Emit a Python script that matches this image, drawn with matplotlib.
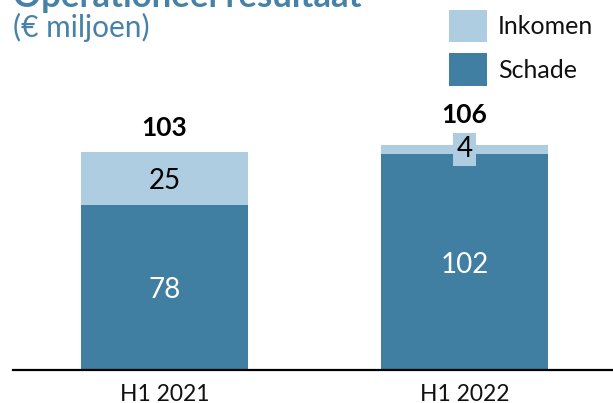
import matplotlib
matplotlib.use("Agg")
import matplotlib.pyplot as plt
import numpy as np

categories = ["H1 2021", "H1 2022"]
schade = [78, 102]
inkomen = [25, 4]
totals = [103, 106]

dark = "#407FA2"
light = "#AECDE0"
title_col = "#4682A8"

plt.rcParams['font.family'] = ['Lato', 'DejaVu Sans']

fig = plt.figure(figsize=(6.13, 4.03), dpi=100)
ax = fig.add_axes([13/613, 33/403, 600/613, 370/403])

x = np.arange(len(categories))
w = 0.557
b1 = ax.bar(x, schade, w, color=dark, label="Schade")
b2 = ax.bar(x, inkomen, w, bottom=schade, color=light, label="Inkomen")

ax.set_xlim(-0.505, 1.495)
ax.set_ylim(0, 174.5)
ax.set_yticks([])
ax.set_xticks(x)
ax.set_xticklabels(categories, fontsize=16.5, color="#111111")
ax.tick_params(axis='x', length=0, pad=10)
for s in ["top", "left", "right"]:
    ax.spines[s].set_visible(False)
ax.spines["bottom"].set_linewidth(1.6)
ax.spines["bottom"].set_color("black")

for i in range(len(categories)):
    ax.annotate(str(schade[i]), (x[i], schade[i] / 2), xytext=(0, -2),
                textcoords='offset points', ha='center', va='center',
                fontsize=20, color='white')
    if inkomen[i] >= 10:
        ax.annotate(str(inkomen[i]), (x[i], schade[i] + inkomen[i] / 2),
                    xytext=(0, -2), textcoords='offset points', ha='center',
                    va='center', fontsize=20, color='black')
        ax.annotate(str(totals[i]), (x[i], totals[i]), xytext=(0, 17),
                    textcoords='offset points', ha='center', va='center',
                    fontsize=19, fontweight='bold', color='black')
    else:
        ax.text(x[i], schade[i] + inkomen[i] / 2, str(inkomen[i]), ha='center',
                va='center', fontsize=20, color='black',
                bbox=dict(boxstyle='square,pad=0.12', fc=light, ec='none'))
        ax.annotate(str(totals[i]), (x[i], totals[i]), xytext=(0, 22),
                    textcoords='offset points', ha='center', va='center',
                    fontsize=19, fontweight='bold', color='black')

fig.text(13/613, 1 - 7/403, "Operationeel resultaat", fontsize=25,
         fontweight='bold', color=title_col, ha='left', va='baseline')
fig.text(13/613, 1 - 37/403, "(€ miljoen)", fontsize=21.5, color=title_col,
         ha='left', va='baseline')

leg = ax.legend(handles=[b2, b1], labels=["Inkomen", "Schade"],
                loc='upper left', bbox_to_anchor=(449/613, 1 - 10/403),
                bbox_transform=fig.transFigure, frameon=False, fontsize=18,
                handlelength=1.52, handleheight=1.6, handletextpad=0.45,
                labelspacing=0.45, borderpad=0, borderaxespad=0)
for t in leg.get_texts():
    t.set_color("#111111")

fig.savefig("out.png", dpi=100)
